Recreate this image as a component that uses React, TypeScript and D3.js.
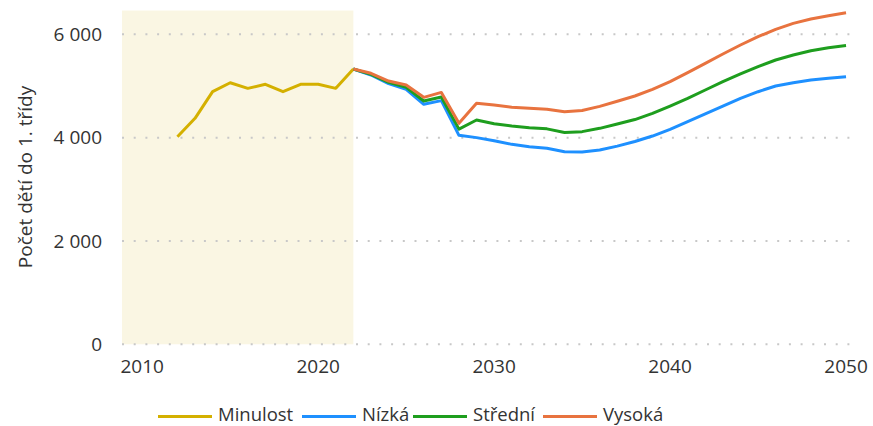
import React from "react";
import * as d3 from "d3";

const histYears = [2012, 2013, 2014, 2015, 2016, 2017, 2018, 2019, 2020, 2021, 2022];
const minulost = [4018, 4374, 4889, 5063, 4954, 5032, 4889, 5032, 5032, 4954, 5328];

const projYears = [
  2022, 2023, 2024, 2025, 2026, 2027, 2028, 2029, 2030, 2031, 2032, 2033, 2034, 2035, 2036,
  2037, 2038, 2039, 2040, 2041, 2042, 2043, 2044, 2045, 2046, 2047, 2048, 2049, 2050,
];
const nizka = [
  5328, 5212, 5044, 4935, 4645, 4716, 4045, 4000, 3940, 3870, 3825, 3795, 3725, 3722, 3760,
  3835, 3925, 4031, 4161, 4309, 4458, 4612, 4761, 4889, 4999, 5063, 5115, 5148, 5180,
];
const stredni = [
  5328, 5225, 5070, 4973, 4709, 4785, 4165, 4341, 4270, 4225, 4190, 4170, 4100, 4116, 4180,
  4265, 4350, 4471, 4612, 4761, 4922, 5083, 5232, 5374, 5503, 5600, 5683, 5741, 5785,
];
const vysoka = [
  5328, 5245, 5096, 5019, 4780, 4875, 4277, 4664, 4630, 4590, 4567, 4550, 4502, 4525, 4605,
  4705, 4806, 4935, 5083, 5258, 5438, 5618, 5793, 5954, 6096, 6212, 6296, 6360, 6418,
];

const xTicks = [2010, 2020, 2030, 2040, 2050];
const yTicks = [0, 2000, 4000, 6000];
const pastRange = [2008.85, 2022];
const yTitle = "Počet dětí do 1. třídy";

const seriesNames = ["Minulost", "Nízká", "Střední", "Vysoká"];
const seriesColors = ["#D4B000", "#1E90FF", "#1E9E1E", "#E8733F"];

const W = 873;
const H = 426;
const FONT = "'Open Sans', 'Noto Sans', sans-serif";
const TEXT = "#333333";

export default function App() {
  const x = d3.scaleLinear().domain([2008.85, 2050.68]).range([122, 858]);
  const y = d3.scaleLinear().domain([0, 6000]).range([344.3, 34.3]);
  const locale = d3.formatLocale({ decimal: ",", thousands: "\u00a0", grouping: [3], currency: ["", " Kč"] });
  const fmt = locale.format(",d");

  const line = d3
    .line<[number, number]>()
    .x((d) => x(d[0]))
    .y((d) => y(d[1]));

  const hist: [number, number][] = histYears.map((yr, i) => [yr, minulost[i]]);
  const proj = [nizka, stredni, vysoka].map((vals) =>
    projYears.map((yr, i) => [yr, vals[i]] as [number, number])
  );

  const [x0, x1] = x.range();

  // legend layout
  const legendLineY = 416.5;
  const legendTextY = 420.5;
  const legendStarts = [158, 302, 413, 543];
  const lineLen = 54;

  return (
    <div style={{ position: "absolute", left: 0, top: 0 }}>
      <svg width={W} height={H} style={{ display: "block", fontFamily: FONT }}>
        <rect x={0} y={0} width={W} height={H} fill="#ffffff" />
        {/* past shading */}
        <rect
          x={x(pastRange[0])}
          y={y(6460)}
          width={x(pastRange[1]) - x(pastRange[0])}
          height={y(0) - y(6460)}
          fill="#FAF6E3"
        />
        {/* grid */}
        {yTicks.map((t) => (
          <line
            key={t}
            x1={x0}
            x2={x1}
            y1={y(t)}
            y2={y(t)}
            stroke="#c8c8c8"
            strokeWidth={2}
            strokeDasharray="2 9.7"
          />
        ))}
        {/* y tick labels */}
        {yTicks.map((t) => (
          <text
            key={t}
            x={102}
            y={y(t)}
            dy="0.36em"
            textAnchor="end"
            fontSize={19}
            fill={TEXT}
          >
            {fmt(t)}
          </text>
        ))}
        {/* x tick labels */}
        {xTicks.map((t) => (
          <text key={t} x={x(t)} y={372.5} textAnchor="middle" fontSize={19} fill={TEXT}>
            {t}
          </text>
        ))}
        {/* y title */}
        <text
          transform={`translate(32, 177) rotate(-90)`}
          textAnchor="middle"
          fontSize={19}
          fill={TEXT}
        >
          {yTitle}
        </text>
        {/* lines */}
        <path d={line(hist) || ""} fill="none" stroke={seriesColors[0]} strokeWidth={3} strokeLinejoin="round" />
        {proj.map((p, i) => (
          <path
            key={i}
            d={line(p) || ""}
            fill="none"
            stroke={seriesColors[i + 1]}
            strokeWidth={3}
            strokeLinejoin="round"
          />
        ))}
        {/* legend */}
        {seriesNames.map((n, i) => (
          <g key={n}>
            <line
              x1={legendStarts[i]}
              x2={legendStarts[i] + lineLen}
              y1={legendLineY}
              y2={legendLineY}
              stroke={seriesColors[i]}
              strokeWidth={3}
            />
            <text x={legendStarts[i] + lineLen + 6} y={legendTextY} fontSize={18.5} fill={TEXT}>
              {n}
            </text>
          </g>
        ))}
      </svg>
    </div>
  );
}
